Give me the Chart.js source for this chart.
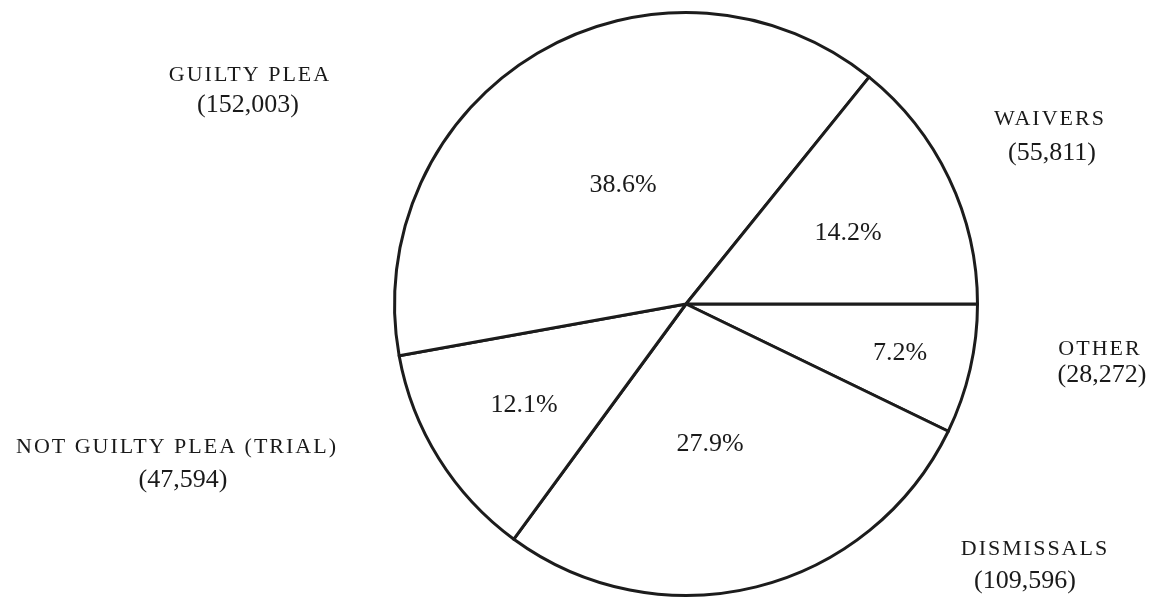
<!DOCTYPE html>
<html>
<head>
<meta charset="utf-8">
<script src="https://cdn.jsdelivr.net/npm/chart.js@4/dist/chart.umd.min.js"></script>
<style>
  html, body { margin: 0; padding: 0; background: #fff; }
  #wrap { width: 1155px; height: 600px; position: relative; }
</style>
</head>
<body>
<div id="wrap"><canvas id="chartPie"></canvas></div>
<script>
// clockwise from 3 o'clock
var categories = ["OTHER", "DISMISSALS", "NOT GUILTY PLEA (TRIAL)", "GUILTY PLEA", "WAIVERS"]
var counts = [28272, 109596, 47594, 152003, 55811]
var countLabels = ["(28,272)", "(109,596)", "(47,594)", "(152,003)", "(55,811)"]
var percents = ["7.2%", "27.9%", "12.1%", "38.6%", "14.2%"]

// where the outside labels sit (centre of name, centre of count)
var labelPos = [[1100, 349, 1102, 375], [1035, 549, 1025, 581], [177, 447, 183, 480], [250, 75, 248, 105], [1050, 119, 1052, 153]]
// where the percentages sit inside each slice
var pctPos = [[900, 353], [710, 444], [524, 405], [623, 185], [848, 233]]

var serif = "'Liberation Serif', 'DejaVu Serif', serif"

var textPlugin = {
  id: 'pieText',
  afterDraw: function(chart) {
    var ctx = chart.ctx
    ctx.save()
    ctx.fillStyle = '#1a1a1a'
    ctx.textAlign = 'center'
    ctx.textBaseline = 'middle'
    for (var i = 0; i < categories.length; i++) {
      var p = labelPos[i]
      ctx.font = '22px ' + serif
      // the caps labels are spaced out
      if ('letterSpacing' in ctx) ctx.letterSpacing = '2px'
      ctx.fillText(categories[i], p[0], p[1])
      if ('letterSpacing' in ctx) ctx.letterSpacing = '0px'
      ctx.font = '26px ' + serif
      ctx.fillText(countLabels[i], p[2], p[3])

      var q = pctPos[i]
      ctx.font = '26px ' + serif
      ctx.fillText(percents[i], q[0], q[1])
    }
    ctx.restore()
  }
}

function showPie() {
  var ctx = document.getElementById('chartPie').getContext('2d')
  new Chart(ctx, {
    type: 'pie',
    data: {
      labels: categories,
      datasets: [{
        data: counts,
        backgroundColor: '#ffffff',
        borderColor: '#1c1c1c',
        borderWidth: 3,
        borderJoinStyle: 'round'
      }]
    },
    options: {
      responsive: true,
      maintainAspectRatio: false,
      animation: false,
      rotation: 90,
      layout: {
        padding: { left: 393, right: 176, top: 10, bottom: 2 }
      },
      plugins: {
        legend: { display: false },
        tooltip: { enabled: false }
      }
    },
    plugins: [textPlugin]
  })
}

showPie()
</script>
</body>
</html>
